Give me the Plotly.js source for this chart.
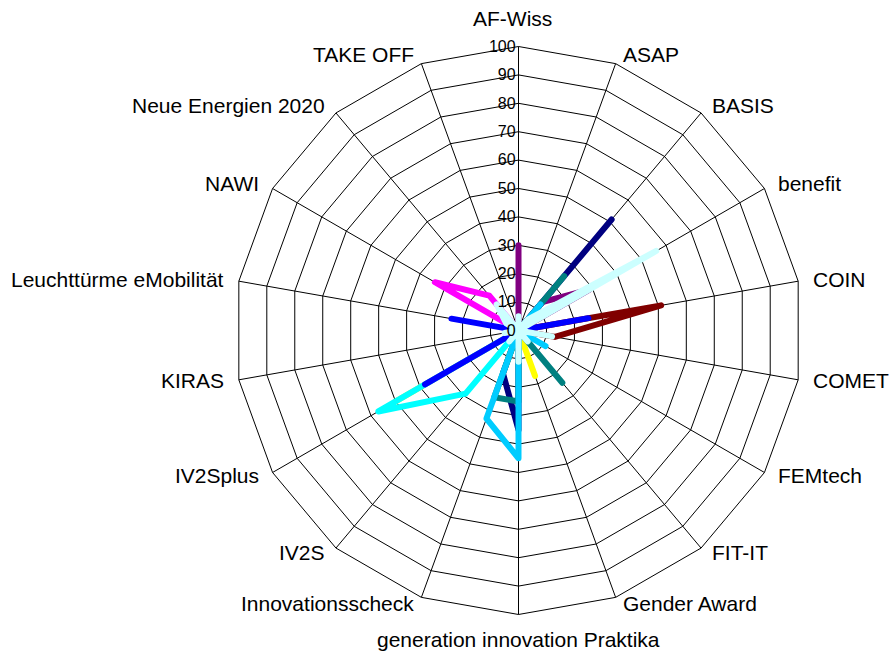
<!DOCTYPE html>
<html><head><meta charset="utf-8">
<script src="https://cdn.plot.ly/plotly-3.0.1.min.js"></script>
<style>
body{margin:0;background:#fff}
#chart path.js-line{stroke-linecap:round;stroke-linejoin:round}
</style>
</head><body><div id="chart" style="width:889px;height:654px"></div>
<script>
const categories = ["AF-Wiss","ASAP","BASIS","benefit","COIN","COMET","FEMtech","FIT-IT","Gender Award","generation innovation Praktika","Innovationsscheck","IV2S","IV2Splus","KIRAS","Leuchttürme eMobilität","NAWI","Neue Energien 2020","TAKE OFF"];
const radialTicks = [0,10,20,30,40,50,60,70,80,90,100];
const seriesNavy      = [0,0,51,0,0,0,0,0,0,35,16,0,0,0,0,0,0,0];
const seriesMagenta   = [0,0,0,0,0,0,0,0,0,0,0,0,0,0,0,34,16,0];
const seriesYellow    = [0,0,0,0,0,0,0,0,17,0,12,0,50,0,0,0,0,0];
const seriesCyan      = [0,0,0,0,0,0,0,0,0,0,0,29,57,0,0,0,0,0];
const seriesPurple    = [30,0,13,29,0,0,0,0,0,0,0,0,0,0,0,0,0,0];
const seriesDarkRed   = [0,0,0,0,51,13,0,0,0,0,0,0,0,0,0,0,0,0];
const seriesTeal      = [0,0,25,0,0,0,0,24,0,25,25,0,0,0,0,0,0,0];
const seriesBlue      = [0,0,0,0,25,0,0,0,0,0,0,0,38,0,24,0,0,0];
const seriesSkyBlue   = [0,0,12,0,0,0,11,0,0,45,33,0,0,0,0,0,0,0];
const seriesTurquoise = [5,0,5,56,0,12,0,5,0,11,0,5,0,5,0,5,12,0];

const seriesList = [
  [seriesNavy, '#000080'],
  [seriesMagenta, '#FF00FF'],
  [seriesYellow, '#FFFF00'],
  [seriesCyan, '#00FFFF'],
  [seriesPurple, '#800080'],
  [seriesDarkRed, '#800000'],
  [seriesTeal, '#008080'],
  [seriesBlue, '#0000FF'],
  [seriesSkyBlue, '#00CCFF'],
  [seriesTurquoise, '#CCFFFF']
];

const traces = seriesList.map(([vals, color]) => ({
  type: 'scatterpolar',
  mode: 'lines',
  r: vals.concat([vals[0]]),
  theta: categories.concat([categories[0]]),
  line: {color: color, width: 6},
  hoverinfo: 'skip',
  showlegend: false
}));

const W = 889, H = 654;
const domX = [0.2638, 0.9027], domY = [0.0604, 0.9289];
const cx = (domX[0] + domX[1]) / 2 * W;
const cy = (1 - (domY[0] + domY[1]) / 2) * H;
const R = (domX[1] - domX[0]) / 2 * W;

// Category labels placed just outside the polygon vertices, Excel style
const labelAnnotations = categories.map((name, k) => {
  const a = k * 2 * Math.PI / categories.length;
  const s = Math.sin(a), c = Math.cos(a);
  const vx = cx + R * s, vy = cy - R * c;
  let x, y, xa;
  if (Math.abs(s) < 0.01) {
    xa = 'center';
    if (c > 0) { x = vx - 6; y = vy - 28.5; } else { x = vx; y = vy + 25.5; }
  } else {
    xa = s > 0 ? 'left' : 'right';
    x = vx + Math.sign(s) * (2 + 10.5 * Math.abs(s));
    y = vy - (c > 0 ? 10 : 6) * c;
  }
  return {
    text: name, showarrow: false, xref: 'paper', yref: 'paper',
    x: x / W, y: 1 - y / H, xanchor: xa, yanchor: 'middle',
    font: {size: 21, color: '#000'}
  };
});

const layout = {
  width: W, height: H,
  margin: {l:0, r:0, t:0, b:0},
  paper_bgcolor: '#fff',
  font: {family: 'Liberation Sans, Arial, sans-serif', color: '#000'},
  showlegend: false,
  annotations: labelAnnotations,
  polar: {
    domain: {x: domX, y: domY},
    gridshape: 'linear',
    bgcolor: '#fff',
    angularaxis: {
      direction: 'clockwise', rotation: 90,
      categoryorder: 'array', categoryarray: categories,
      showline: true, linecolor: '#000', linewidth: 1,
      showgrid: true, gridcolor: '#000', gridwidth: 1,
      ticks: '', showticklabels: false
    },
    radialaxis: {
      range: [0,100], tickmode: 'array', tickvals: radialTicks, ticktext: radialTicks.map(String),
      angle: 90, tickangle: 90, side: 'counterclockwise',
      showline: false, showgrid: true, gridcolor: '#000', gridwidth: 1,
      ticks: '',
      tickfont: {size: 16, color: '#000'}
    }
  }
};

Plotly.newPlot('chart', traces, layout, {staticPlot: true});
</script>
</body></html>
